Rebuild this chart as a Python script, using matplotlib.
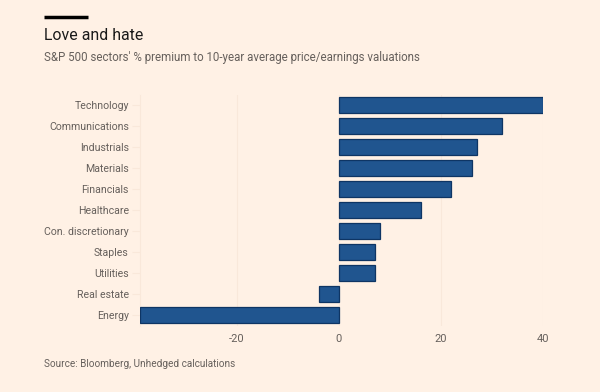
import numpy as np
import matplotlib.pyplot as plt
from matplotlib.lines import Line2D

# data
sectors = ["Technology", "Communications", "Industrials", "Materials", "Financials",
           "Healthcare", "Con. discretionary", "Staples", "Utilities", "Real estate", "Energy"]
premium = [40, 32, 27, 26, 22, 16, 8, 7, 7, -4, -39]
xticks = [-20, 0, 20, 40]

bg = '#fff1e5'
grey = '#66605c'
plt.rcParams['font.family'] = ['Roboto', 'DejaVu Sans']

fig = plt.figure(figsize=(6, 3.92), dpi=100, facecolor=bg)
ax = fig.add_axes([0.2333, 0.1696, 0.6717, 0.589], facecolor=bg)

y = np.arange(len(sectors))
ax.barh(y, premium, height=0.79, color='#20558f', edgecolor='#0e3564', linewidth=0.9, zorder=3)
ax.set_ylim(len(sectors) - 0.5, -0.5)
ax.set_xlim(-39, 40)
ax.set_yticks(y)
ax.set_yticklabels(sectors)
ax.set_xticks(xticks)
ax.set_xticklabels([str(t) for t in xticks])

# faint gridlines, including the left edge of the plot
ax.grid(axis='x', color='#f9e8da', linewidth=0.8, zorder=0)
for s in ax.spines.values():
    s.set_visible(False)
ax.spines['left'].set_visible(True)
ax.spines['left'].set_color('#f9e8da')
ax.tick_params(axis='y', length=6, color='#f9e8da', labelsize=7.6, labelcolor=grey, pad=2)
ax.tick_params(axis='x', length=0, labelsize=8, labelcolor=grey, pad=6)

# header
fig.add_artist(Line2D([44/600, 88/600], [1 - 17/392, 1 - 17/392], color='black',
                      linewidth=2.5, solid_capstyle='butt'))
fig.text(44/600, 1 - 35/392, "Love and hate", fontsize=11.4, color='#1a1a1a', va='center')
fig.text(44/600, 1 - 58/392, "S&P 500 sectors' % premium to 10-year average price/earnings valuations",
         fontsize=8.3, color=grey, va='center')
fig.text(44/600, 1 - 364/392, "Source: Bloomberg, Unhedged calculations",
         fontsize=7.2, color=grey, va='center')

fig.savefig('out.png', dpi=100, facecolor=bg)
